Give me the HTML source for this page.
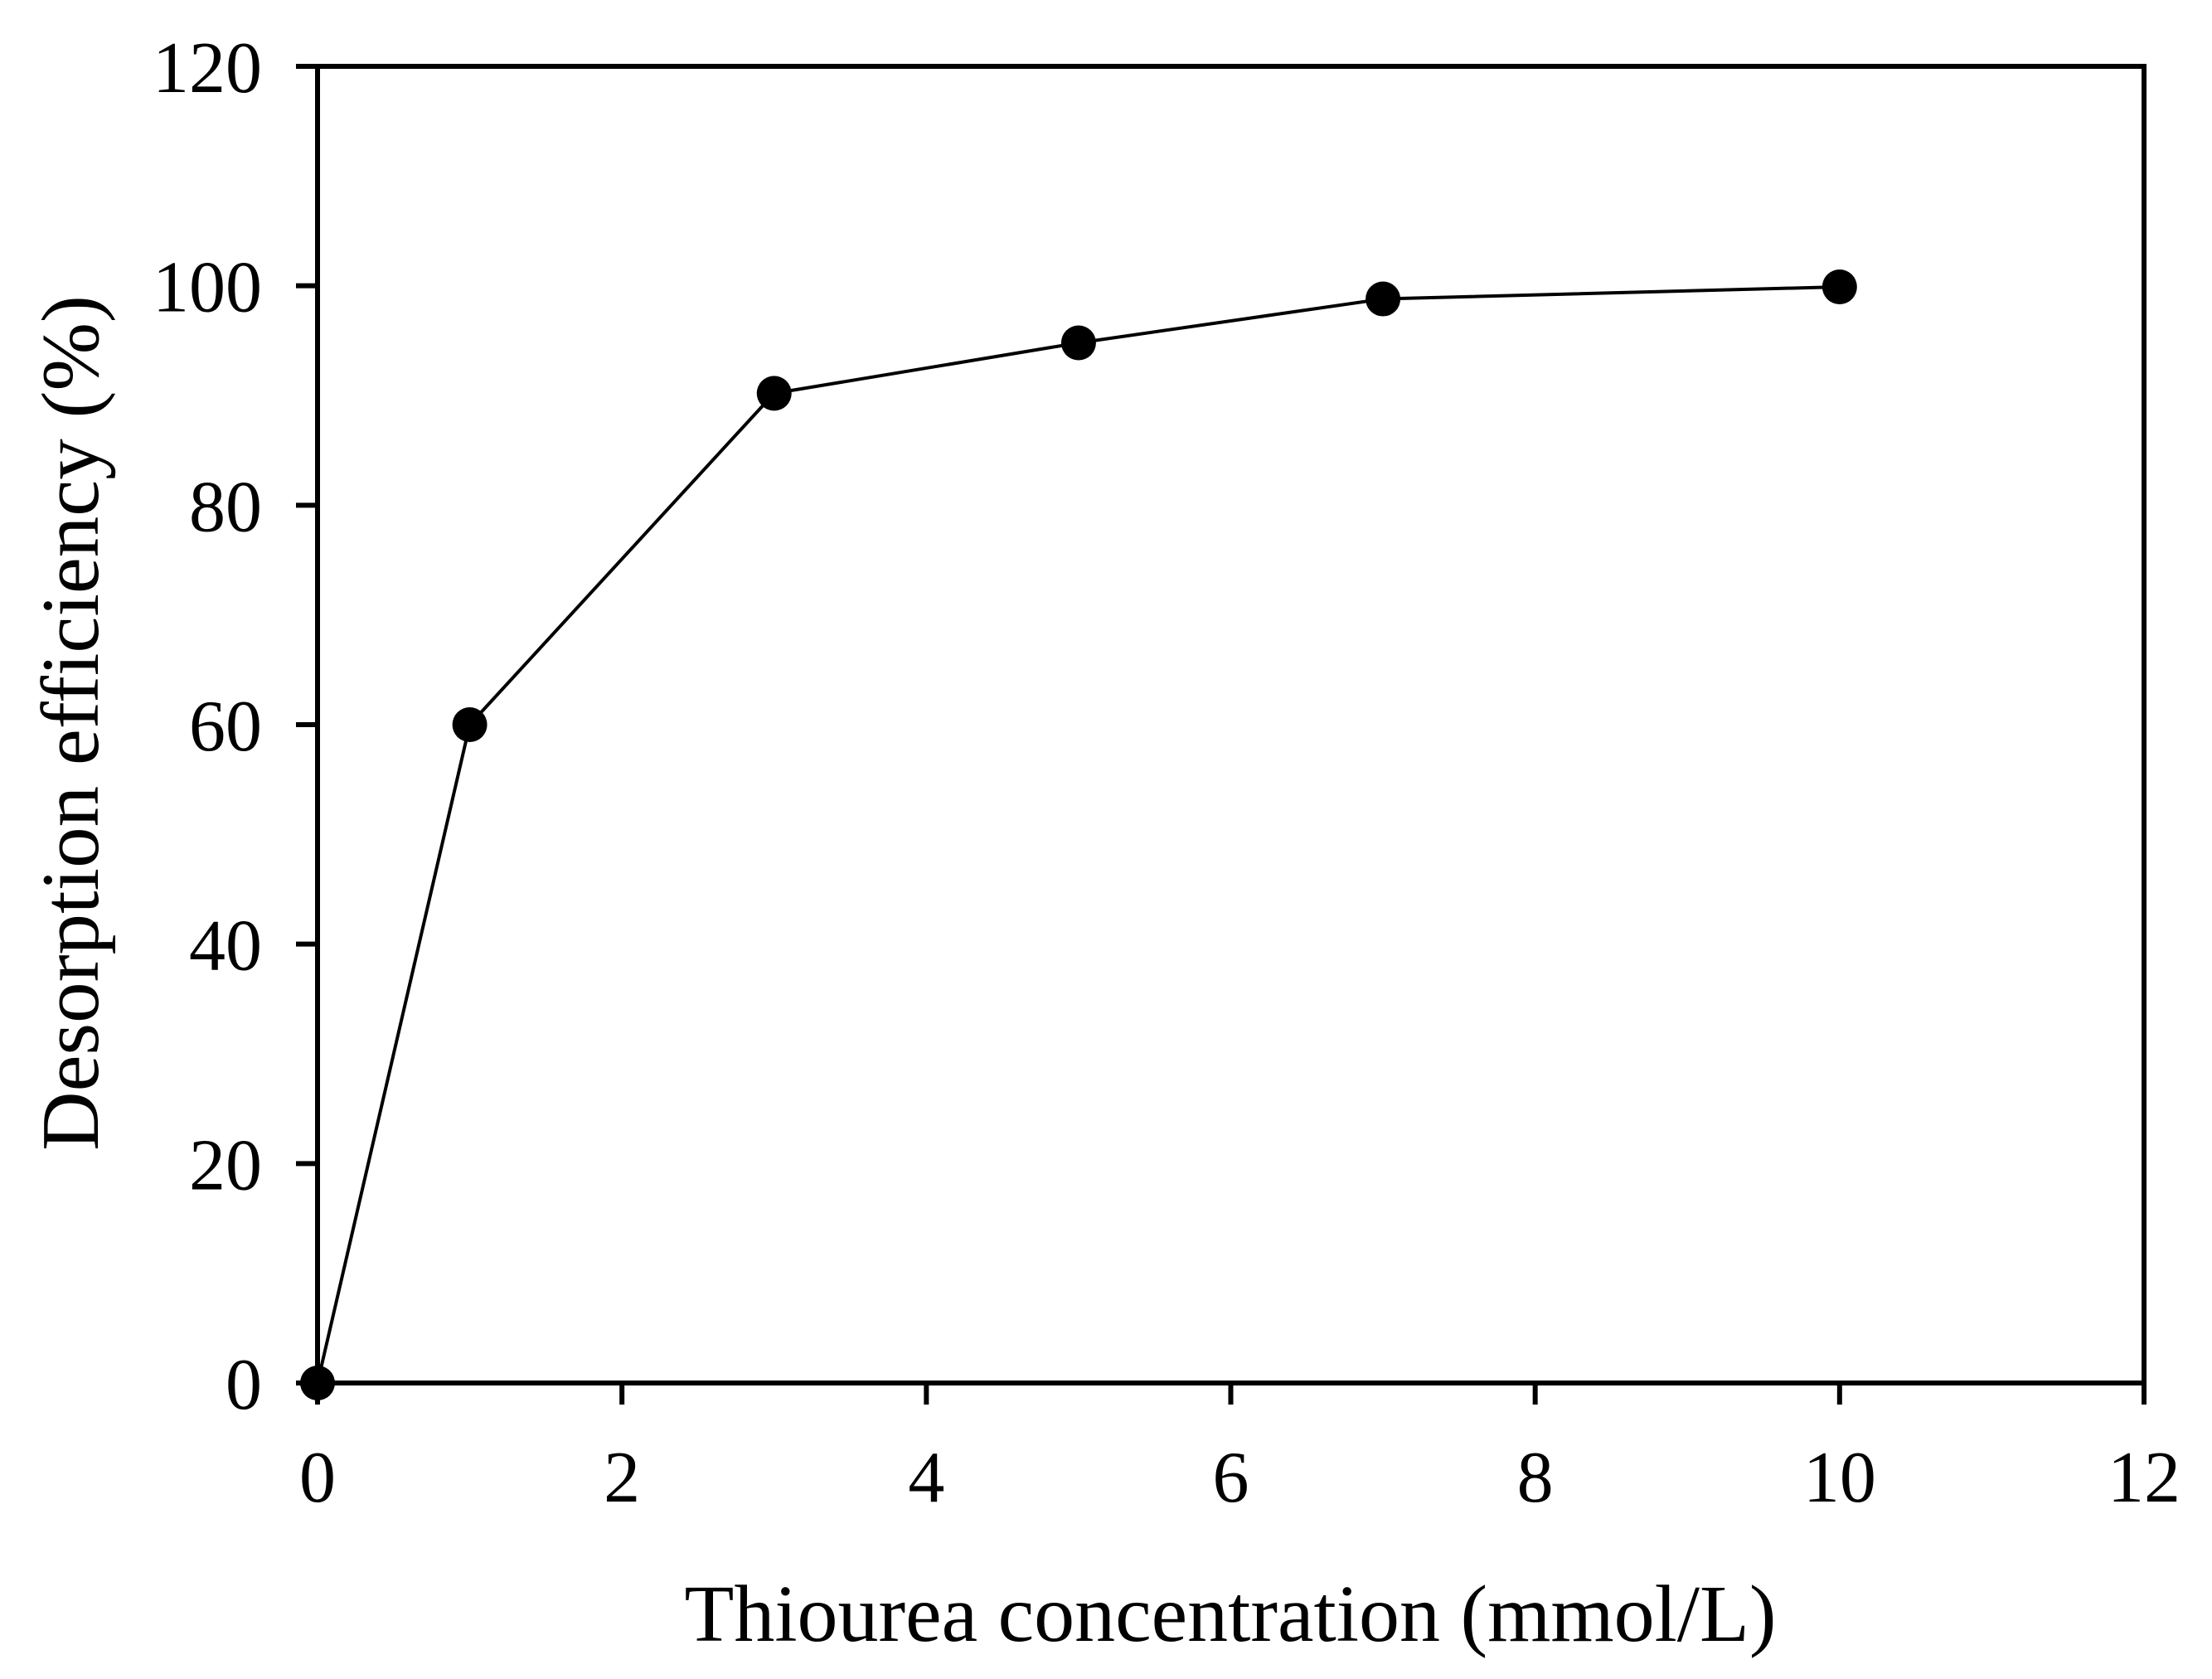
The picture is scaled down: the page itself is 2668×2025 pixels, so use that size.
<!DOCTYPE html>
<html><head><meta charset="utf-8"><style>
html,body{margin:0;padding:0;background:#fff}
svg{display:block}
text{font-family:"Liberation Serif",serif;fill:#000}
</style></head><body>
<svg id="chart" width="2668" height="2025" viewBox="0 0 2668 2025">
<g id="axes"></g>
<g id="series"></g>
<text x="1484" y="1979" font-size="98" text-anchor="middle">Thiourea concentration (mmol/L)</text>
<text transform="translate(118,872) rotate(-90)" font-size="99" text-anchor="middle">Desorption efficiency (%)</text>
</svg>
<script>
const xValues = [0, 1, 3, 5, 7, 10];
const yValues = [0, 60, 90.2, 94.8, 98.8, 99.9];
const xTicks = [0, 2, 4, 6, 8, 10, 12];
const yTicks = [0, 20, 40, 60, 80, 100, 120];

const L = 383, R = 2586, T = 80, B = 1668;
const sx = v => L + (v - 0) / 12 * (R - L);
const sy = v => B - (v - 0) / 120 * (B - T);
const NS = 'http://www.w3.org/2000/svg';
function mk(tag, attrs, parent) {
  const e = document.createElementNS(NS, tag);
  for (const k in attrs) e.setAttribute(k, attrs[k]);
  parent.appendChild(e);
  return e;
}
const axes = document.getElementById('axes');
const series = document.getElementById('series');

const frame = mk('rect', {x: L, y: T, width: R - L, height: B - T, fill: 'none', stroke: '#000', 'stroke-width': 6}, axes);



xTicks.forEach(v => {
  const t = mk('line', {x1: sx(v), x2: sx(v), y1: B, y2: B + 26, stroke: '#000', 'stroke-width': 6}, axes);
  
  
  const lb = mk('text', {x: sx(v), y: 1811, 'font-size': 88, 'text-anchor': 'middle'}, axes);
  lb.textContent = v;
  
  
});
yTicks.forEach(v => {
  const t = mk('line', {x1: L - 26, x2: L, y1: sy(v), y2: sy(v), stroke: '#000', 'stroke-width': 6}, axes);
  
  
  const lb = mk('text', {x: 316, y: sy(v) + 31, 'font-size': 88, 'text-anchor': 'end'}, axes);
  lb.textContent = v;
  
  
});

const pts = xValues.map((x, i) => sx(x) + ',' + sy(yValues[i])).join(' ');
const line = mk('polyline', {points: pts, fill: 'none', stroke: '#000', 'stroke-width': 4}, series);


xValues.forEach((x, i) => {
  const c = mk('circle', {cx: sx(x), cy: sy(yValues[i]), r: 21, fill: '#000'}, series);
  
  
});
</script>
</body></html>
